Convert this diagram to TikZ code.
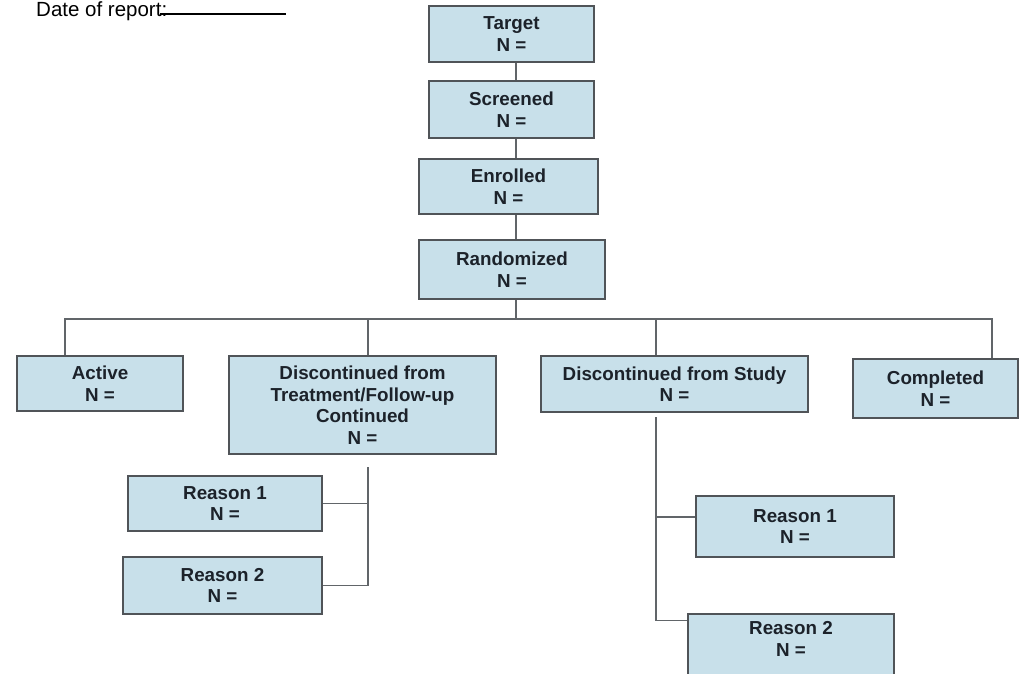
\documentclass[tikz,border=0pt]{standalone}
\usepackage{fontspec}
\setmainfont{Liberation Sans}
\usepackage{tikz}
\usetikzlibrary{calc}
\definecolor{boxfill}{RGB}{200,224,234}
\definecolor{boxline}{RGB}{80,84,88}
\definecolor{boxtext}{RGB}{28,34,42}
\tikzset{
  box/.style={draw=boxline, fill=boxfill, line width=1.5pt, inner sep=0pt,
    align=center, text=boxtext, font=\bfseries\fontsize{18.8}{21.5}\selectfont},
  link/.style={draw=boxline!90, line width=1.5pt},
}

\begin{document}
\begin{tikzpicture}[x=1pt,y=-1pt]
  \useasboundingbox (0,0) rectangle (1021,673);
  \clip (0,0) rectangle (1021,673);
  % header
  \node[anchor=base west, inner sep=0pt, font=\fontsize{20.5}{24}\selectfont] (date) at (36,16) {Date of report:};
  \draw[line width=1.8pt] (160,14) -- (286,14);
  % main column
  \node[box, minimum width=165pt, minimum height=56pt] (target) at (511.5,34) {Target\\N =};
  \node[box, minimum width=165pt, minimum height=57pt] (screened) at (511.5,109.5) {Screened\\N =};
  \node[box, minimum width=179pt, minimum height=55pt] (enrolled) at (508.5,186.5) {Enrolled\\N =};
  \node[box, minimum width=186pt, minimum height=59pt] (randomized) at (512,269.5) {Randomized\\N =};
  % outcome row
  \node[box, minimum width=166pt, minimum height=55pt] (active) at (100,383.5) {Active\\N =};
  \node[box, minimum width=267pt, minimum height=98pt] (disctreat) at (362.5,405) {Discontinued from\\Treatment/Follow-up\\Continued\\N =};
  \node[box, minimum width=267pt, minimum height=56pt] (discstudy) at (674.5,384) {Discontinued from Study\\N =};
  \node[box, minimum width=165pt, minimum height=59pt] (completed) at (935.5,388.5) {Completed\\N =};
  % reasons
  \node[box, minimum width=194pt, minimum height=55pt] (reasonA1) at (225,503.5) {Reason 1\\N =};
  \node[box, minimum width=199pt, minimum height=57pt] (reasonA2) at (222.5,585.5) {Reason 2\\N =};
  \node[box, minimum width=198pt, minimum height=61pt] (reasonB1) at (795,526.5) {Reason 1\\N =};
  \node[box, minimum width=206pt, minimum height=70pt] (reasonB2) at (791,649) {\raisebox{33pt}{\begin{tabular}{@{}c@{}}Reason 2\\N =\end{tabular}}};
  % connectors
  \coordinate (col) at (516,0);
  \coordinate (busL) at (65,319);
  \coordinate (busR) at (992,319);
  \coordinate (spineL) at (368,467);
  \coordinate (spineR) at (656,417);
  \coordinate (tapB1) at ($(reasonB1.west)+(0,-9.5)$);
  \coordinate (tapB2) at ($(reasonB2.north west)+(0,7)$);
  \draw[link] (target.south -| col) -- (screened.north -| col);
  \draw[link] (screened.south -| col) -- (enrolled.north -| col);
  \draw[link] (enrolled.south -| col) -- (randomized.north -| col);
  \draw[link] (randomized.south -| col) -- (col |- busL);
  \draw[link] (active.north -| busL) -- (busL) -- (busR) -- (completed.north -| busR);
  \draw[link] (disctreat.north -| spineL) -- (spineL |- busL);
  \draw[link] (discstudy.north -| spineR) -- (spineR |- busL);
  \draw[link] (spineL) |- (reasonA2.east);
  \draw[link] (reasonA1.east) -- (reasonA1.east -| spineL);
  \draw[link] (spineR) |- (tapB2);
  \draw[link] (tapB1) -- (tapB1 -| spineR);
\end{tikzpicture}
\end{document}
